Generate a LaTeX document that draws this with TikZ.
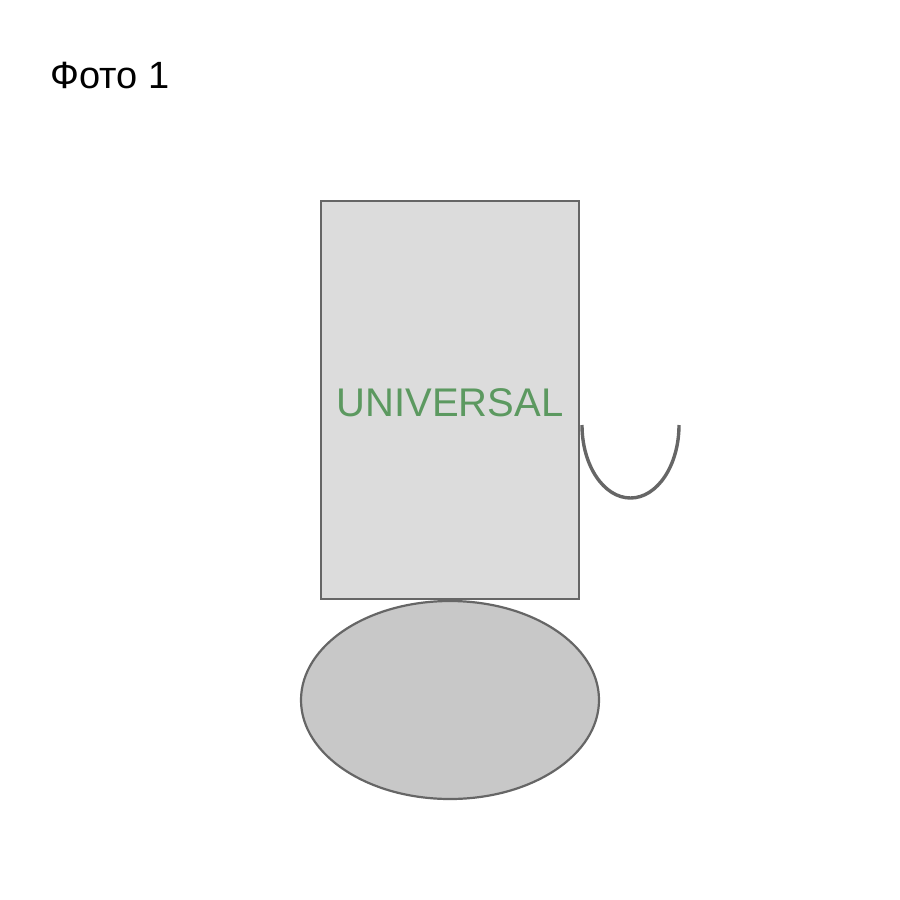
\documentclass[tikz,border=0pt]{standalone}
\usepackage{fontspec}
\setmainfont{Liberation Sans}
\usetikzlibrary{shapes.geometric}
\definecolor{edge}{HTML}{666666}
\definecolor{boxfill}{HTML}{DCDCDC}
\definecolor{basefill}{HTML}{C8C8C8}
\definecolor{labelgreen}{HTML}{5C9960}
\tikzset{
  body/.style={draw=edge, fill=boxfill, line width=2.2pt, minimum width=258pt, minimum height=398pt, inner sep=0pt},
  base/.style={ellipse, draw=edge, fill=basefill, line width=2.2pt, minimum width=298pt, minimum height=198pt, inner sep=0pt},
  handle/.style={draw=edge, line width=3.4pt},
}
\begin{document}
\begin{tikzpicture}[x=1pt,y=-1pt]
\useasboundingbox (0,0) rectangle (900,900);
\node[anchor=base west, font=\fontsize{38}{42}\selectfont, inner sep=0pt] (title) at (50,88) {Фото 1};
\node[base] (foot) at (450,700) {};
\node[body] (box) at (450,400) {};
\node[text=labelgreen, font=\fontsize{40}{44}\selectfont, inner sep=0pt, anchor=base] (lbl) at (450,416) {UNIVERSAL};
\coordinate (hstart) at (582,425);
\draw[handle] (hstart) arc[start angle=180, end angle=360, x radius=48.5, y radius=-73];
\end{tikzpicture}
\end{document}
